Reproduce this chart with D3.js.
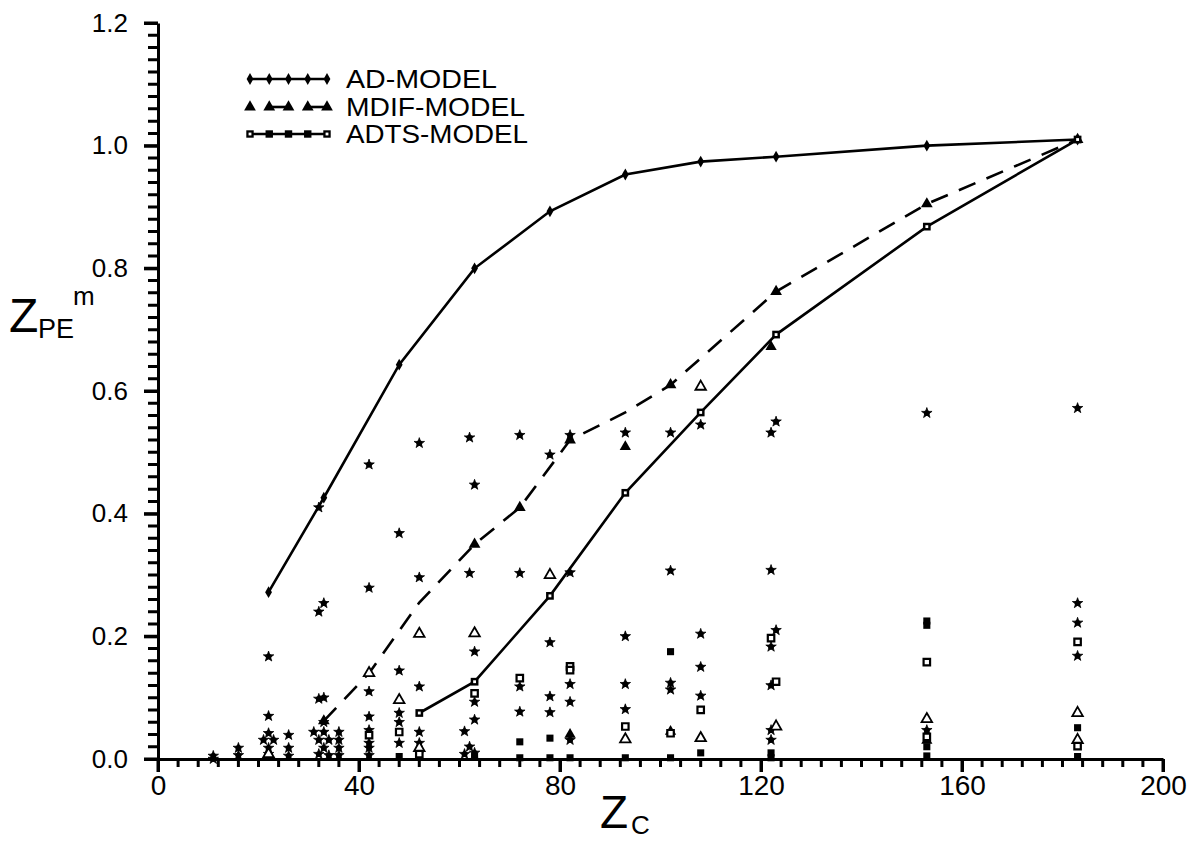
<!DOCTYPE html>
<html><head><meta charset="utf-8">
<script src="https://cdn.jsdelivr.net/npm/d3@7"></script>
<style>body{margin:0;background:#fff}svg{display:block}text{font-family:"Liberation Sans",Arial,sans-serif;fill:#000}</style>
</head><body>
<svg id="c" width="1195" height="841"></svg>
<script>
// ---- data ----
const xMajorTicks = [0, 40, 80, 120, 160, 200];
const yMajorTicks = [0, 0.2, 0.4, 0.6, 0.8, 1.0, 1.2];
const xMinorStep = 4;
const yMinorStep = 0.02;
const seriesNames = ["AD-MODEL", "MDIF-MODEL", "ADTS-MODEL"];
const adModel = [[22,0.272],[33,0.426],[48,0.643],[63,0.80],[78,0.893],[93,0.953],[108,0.974],[123,0.982],[153,1.0],[183,1.01]];
const mdifModel = [[33,0.062],[42,0.14],[52,0.255],[63,0.35],[72,0.41],[82,0.52],[93,0.565],[102,0.61],[123,0.762],[153,0.905],[183,1.01]];
const mdifMarkedX = [33,63,72,82,102,123,153,183];
const adtsModel = [[52,0.075],[63,0.126],[78,0.266],[93,0.434],[108,0.565],[123,0.692],[153,0.868],[183,1.01]];
const starPts = [[11,0.005],[11,0.0],[16,0.018],[16,0.006],
 [22,0.167],[22,0.070],[22,0.042],[21,0.031],[23,0.031],[22,0.018],[22,0.008],
 [26,0.039],[26,0.018],[26,0.005],
 [32,0.41],[32,0.24],[33,0.254],[32,0.098],[33,0.1],[33,0.06],[31,0.044],[33,0.044],[32,0.031],[34,0.031],[33,0.018],[32,0.008],[34,0.006],
 [36,0.044],[36,0.031],[36,0.018],[36,0.006],
 [42,0.48],[42,0.279],[42,0.11],[42,0.069],[42,0.047],[42,0.026],[42,0.018],[42,0.006],
 [48,0.368],[48,0.144],[48,0.075],[48,0.06],[48,0.026],
 [52,0.515],[52,0.296],[52,0.118],[52,0.044],[52,0.026],[52,0.01],
 [62,0.524],[63,0.447],[62,0.303],[63,0.175],[63,0.093],[63,0.064],[61,0.045],[62,0.02],[63,0.01],[61,0.008],
 [72,0.528],[72,0.303],[72,0.118],[72,0.077],
 [78,0.496],[78,0.19],[78,0.102],[78,0.076],
 [82,0.528],[82,0.304],[82,0.122],[82,0.093],[82,0.031],
 [93,0.532],[93,0.2],[93,0.122],[93,0.081],
 [102,0.532],[102,0.307],[102,0.124],[102,0.113],
 [108,0.545],[108,0.204],[108,0.15],[108,0.103],
 [122,0.532],[123,0.55],[122,0.308],[123,0.21],[122,0.183],[122,0.12],[122,0.047],[122,0.031],
 [153,0.564],[153,0.047],
 [183,0.572],[183,0.254],[183,0.222],[183,0.168]];
const openTriPts = [[22,0.008],[42,0.14],[48,0.096],[52,0.204],[52,0.018],[63,0.205],[78,0.30],[93,0.032],[108,0.607],[108,0.034],[123,0.053],[153,0.065],[183,0.075],[183,0.031]];
const filledTriPts = [[93,0.509],[122,0.672],[82,0.04],[102,0.045],[153,0.03]];
const openSqPts = [[42,0.039],[48,0.044],[52,0.008],[63,0.107],[72,0.132],[82,0.151],[82,0.145],[93,0.053],[102,0.042],[108,0.080],[122,0.197],[123,0.126],[153,0.158],[153,0.036],[183,0.191],[183,0.021]];
const filledSqPts = [[48,0.004],[63,0.004],[72,0.028],[72,0.002],[78,0.034],[78,0.002],[82,0.002],[93,0.002],[102,0.002],[102,0.175],[108,0.01],[122,0.01],[122,0.002],[153,0.225],[153,0.218],[153,0.02],[153,0.005],[183,0.051],[183,0.004]];

// ---- scales ----
const svg = d3.select("#c");
const x = d3.scaleLinear().domain([0, 200]).range([158, 1163]);
const y = d3.scaleLinear().domain([0, 1.2]).range([759, 23]);

// ---- axes: labels via d3 axis ----
const axM = svg.append("g").attr("transform", `translate(0,${y(0)})`)
  .call(d3.axisBottom(x).tickValues(xMajorTicks).tickSize(13).tickSizeOuter(0).tickPadding(3).tickFormat(d3.format("d")));
axM.selectAll("text").attr("font-size", 28).attr("font-family", "Liberation Sans, Arial, sans-serif").attr("fill", "#000");
const ayM = svg.append("g").attr("transform", `translate(${x(0)},0)`)
  .call(d3.axisLeft(y).tickValues(yMajorTicks).tickSize(14).tickSizeOuter(0).tickPadding(16).tickFormat(d3.format(".1f")));
ayM.selectAll("text").attr("font-size", 26).attr("font-family", "Liberation Sans, Arial, sans-serif").attr("fill", "#000");
svg.selectAll(".domain, .tick line").attr("stroke", "#000").attr("stroke-width", 3);

// minor + major tick marks as paths
const xMinor = d3.range(0, 200 + 1e-9, xMinorStep);
svg.append("path").attr("fill", "none").attr("stroke", "#000").attr("stroke-width", 3)
  .attr("d", xMinor.map(d => `M${x(d)},${y(0)}v${xMajorTicks.includes(d) ? 13 : 8}`).join(""));
const yMinor = d3.range(0, 61).map(i => +(i * yMinorStep).toFixed(2));
svg.append("path").attr("fill", "none").attr("stroke", "#000").attr("stroke-width", 3)
  .attr("d", yMinor.map(d => `M${x(0)},${y(d)}h${yMajorTicks.some(m => Math.abs(m - d) < 1e-6) ? -14 : -10}`).join(""));

// ---- model lines ----
const line = d3.line().x(d => x(d[0])).y(d => y(d[1]));
const lines = svg.append("g").attr("fill", "none").attr("stroke", "#000").attr("stroke-width", 2.6);
lines.append("path").attr("d", line(adModel));
lines.append("path").attr("d", line(mdifModel)).attr("stroke-dasharray", "18,12");
lines.append("path").attr("d", line(adtsModel));

const sym = (t, s) => d3.symbol().type(t).size(s)();
function markers(data, type, size, fill, stroke, sw) {
  svg.append("g").selectAll("path").data(data).join("path")
    .attr("transform", d => `translate(${x(d[0])},${y(d[1])})`)
    .attr("d", sym(type, size)).attr("fill", fill).attr("stroke", stroke).attr("stroke-width", sw);
}
markers(adModel, d3.symbolDiamond, 40, "#000", "none", 0);
markers(mdifModel.filter(d => mdifMarkedX.includes(d[0])), d3.symbolTriangle, 60, "#000", "none", 0);
markers(adtsModel, d3.symbolSquare, 60, "#000", "none", 0);
markers(adtsModel, d3.symbolSquare, 8, "#fff", "none", 0);

// ---- scatter ----
markers(starPts, d3.symbolCircle, 26, "#000", "none", 0);
markers(starPts, d3.symbolStar, 34, "#000", "#000", 0.8);
markers(openTriPts, d3.symbolTriangle, 48, "#fff", "#000", 1.8);
markers(filledTriPts, d3.symbolTriangle, 55, "#000", "none", 0);
markers(openSqPts, d3.symbolSquare, 42, "#fff", "#000", 2.2);
markers(filledSqPts, d3.symbolSquare, 50, "#000", "none", 0);

// ---- legend ----
const legRows = [79, 107, 134];
const legX = d3.scaleLinear().domain([0, 4]).range([250, 327]);
const lg = svg.append("g");
const txtW = [151, 179, 182];
seriesNames.forEach((name, i) => {
  const yy = legRows[i];
  const pts = d3.range(5).map(k => [legX(k), yy]);
  if (i === 1) {
    lg.append("line").attr("x1", legX(1)).attr("x2", legX(2)).attr("y1", yy).attr("y2", yy).attr("stroke", "#000").attr("stroke-width", 2.6);
    lg.append("line").attr("x1", legX(3)).attr("x2", legX(4)).attr("y1", yy).attr("y2", yy).attr("stroke", "#000").attr("stroke-width", 2.6);
  } else {
    lg.append("line").attr("x1", legX(0)).attr("x2", legX(4)).attr("y1", yy).attr("y2", yy).attr("stroke", "#000").attr("stroke-width", 2.6);
  }
  const t = [d3.symbolDiamond, d3.symbolTriangle, d3.symbolSquare][i];
  const s = [40, 60, 55][i];
  lg.selectAll(null).data(pts).join("path").attr("transform", d => `translate(${d[0]},${d[1]})`).attr("d", sym(t, s)).attr("fill", "#000");
  if (i === 2) lg.selectAll(null).data([pts[0], pts[4]]).join("path").attr("transform", d => `translate(${d[0]},${d[1]})`).attr("d", sym(d3.symbolSquare, 8)).attr("fill", "#fff");
  lg.append("text").attr("x", 346).attr("y", yy + 9).attr("font-size", 25)
    .attr("textLength", txtW[i]).attr("lengthAdjust", "spacingAndGlyphs").text(name);
});

// ---- axis titles ----
svg.append("text").attr("x", 9).attr("y", 332).attr("font-size", 48).text("Z");
svg.append("text").attr("x", 38).attr("y", 338).attr("font-size", 27).text("PE");
svg.append("text").attr("x", 73).attr("y", 305).attr("font-size", 26).text("m");
svg.append("text").attr("x", 600).attr("y", 828).attr("font-size", 46).text("Z");
svg.append("text").attr("x", 631).attr("y", 834).attr("font-size", 26).text("C");
</script>
</body></html>
